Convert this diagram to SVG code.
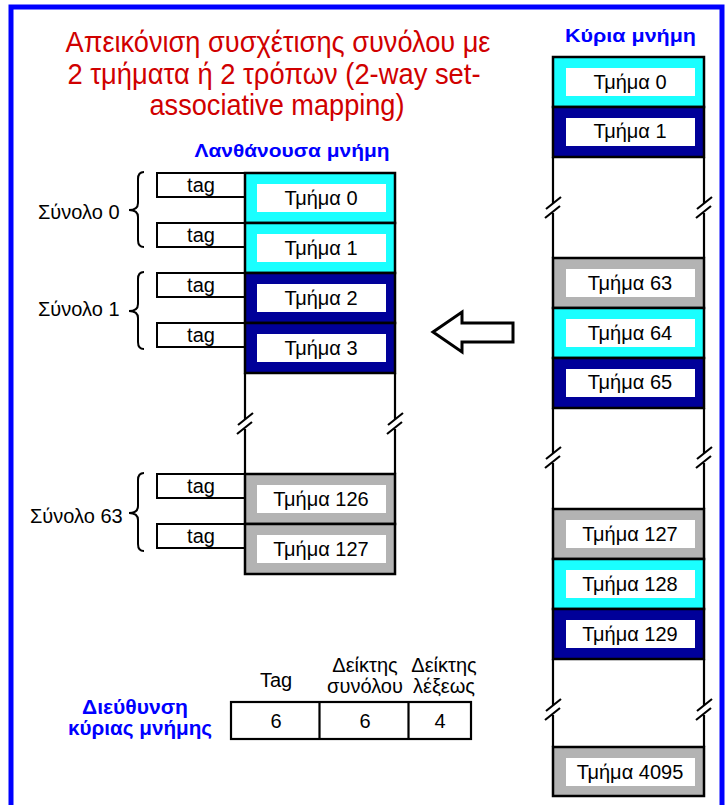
<svg xmlns="http://www.w3.org/2000/svg" width="726" height="805" viewBox="0 0 726 805">
<style>
  text { font-family: "Liberation Sans", Arial, sans-serif; }
  .title { font-size: 29px; fill: #d00000; text-anchor: middle; }
  .head { font-size: 18px; font-weight: bold; fill: #0000ff; text-anchor: middle; }
  .lbl { font-size: 20px; fill: #000; text-anchor: middle; }
  .lblL { font-size: 20px; fill: #000; }
  .row { stroke: #000; stroke-width: 2.5; }
  .cyan { fill: #1affff; }
  .navy { fill: #000099; }
  .gray { fill: #b3b3b3; }
  .inner { fill: #fff; }
  .tagbox { fill: #fff; stroke: #000; stroke-width: 2; }
  .line { fill: none; stroke: #000; stroke-width: 2.2; }
  .brace { fill: none; stroke: #000; stroke-width: 2; }
</style>

<rect id="frame" x="11" y="7" width="711" height="810" fill="none" stroke="#0000ff" stroke-width="5"/>

<g id="title">
  <text class="title" x="278" y="52" textLength="425" lengthAdjust="spacingAndGlyphs">Απεικόνιση συσχέτισης συνόλου με</text>
  <text class="title" x="274" y="84" textLength="413" lengthAdjust="spacingAndGlyphs">2 τμήματα ή 2 τρόπων (2-way set-</text>
  <text class="title" x="277" y="115" textLength="255" lengthAdjust="spacingAndGlyphs">associative mapping)</text>
</g>

<g id="cache-label"><text class="head" x="292" y="157" textLength="195" lengthAdjust="spacingAndGlyphs">Λανθάνουσα μνήμη</text></g>
<g id="main-label"><text class="head" x="630.5" y="42" textLength="131" lengthAdjust="spacingAndGlyphs">Κύρια μνήμη</text></g>

<!-- tag boxes -->
<g id="tag-0"><rect class="tagbox" x="157" y="173" width="88" height="24"/><text class="lbl" x="201" y="192">tag</text></g>
<g id="tag-1"><rect class="tagbox" x="157" y="223" width="88" height="24"/><text class="lbl" x="201" y="242">tag</text></g>
<g id="tag-2"><rect class="tagbox" x="157" y="273" width="88" height="24"/><text class="lbl" x="201" y="292">tag</text></g>
<g id="tag-3"><rect class="tagbox" x="157" y="323" width="88" height="24"/><text class="lbl" x="201" y="342">tag</text></g>
<g id="tag-126"><rect class="tagbox" x="157" y="474" width="88" height="24"/><text class="lbl" x="201" y="493">tag</text></g>
<g id="tag-127"><rect class="tagbox" x="157" y="524" width="88" height="24"/><text class="lbl" x="201" y="543">tag</text></g>

<!-- cache lines -->
<g id="cache-c0"><rect class="row cyan" x="245" y="173" width="150" height="50"/><rect class="inner" x="257" y="184" width="129" height="28"/><text class="lbl" x="321" y="205">Τμήμα 0</text></g>
<g id="cache-c1"><rect class="row cyan" x="245" y="223" width="150" height="50"/><rect class="inner" x="257" y="234" width="129" height="28"/><text class="lbl" x="321" y="255">Τμήμα 1</text></g>
<g id="cache-c2"><rect class="row navy" x="245" y="273" width="150" height="50"/><rect class="inner" x="257" y="284" width="129" height="28"/><text class="lbl" x="321" y="305">Τμήμα 2</text></g>
<g id="cache-c3"><rect class="row navy" x="245" y="323" width="150" height="50"/><rect class="inner" x="257" y="334" width="129" height="28"/><text class="lbl" x="321" y="355">Τμήμα 3</text></g>
<g id="cache-gap">
  <path class="line" d="M245,373 V419 M245,429 V474 M238,425 L253,413 M237,434 L252,422"/>
  <path class="line" d="M395,373 V419 M395,429 V474 M388,425 L403,413 M387,434 L402,422"/>
</g>
<g id="cache-c126"><rect class="row gray" x="245" y="474" width="150" height="50"/><rect class="inner" x="257" y="485" width="129" height="28"/><text class="lbl" x="321" y="506">Τμήμα 126</text></g>
<g id="cache-c127"><rect class="row gray" x="245" y="524" width="150" height="50"/><rect class="inner" x="257" y="535" width="129" height="28"/><text class="lbl" x="321" y="556">Τμήμα 127</text></g>

<!-- sets -->
<g id="set-0">
  <path class="brace" d="M144,172 Q138,172 138,179 L138,203 Q138,210 129,210 Q138,210 138,217 L138,240 Q138,247 144,247"/>
  <text class="lblL" x="38" y="219">Σύνολο 0</text>
</g>
<g id="set-1">
  <path class="brace" d="M144,272 Q138,272 138,279 L138,304 Q138,311 129,311 Q138,311 138,318 L138,342 Q138,349 144,349"/>
  <text class="lblL" x="38" y="316">Σύνολο 1</text>
</g>
<g id="set-63">
  <path class="brace" d="M144,473 Q138,473 138,480 L138,506 Q138,513 129,513 Q138,513 138,520 L138,544 Q138,551 144,551"/>
  <text class="lblL" x="30" y="523">Σύνολο 63</text>
</g>

<!-- main memory -->
<g id="mm-b0"><rect class="row cyan" x="553" y="57" width="151" height="50"/><rect class="inner" x="566" y="68" width="129" height="28"/><text class="lbl" x="630" y="89">Τμήμα 0</text></g>
<g id="mm-b1"><rect class="row navy" x="553" y="107" width="151" height="50"/><rect class="inner" x="566" y="118" width="129" height="28"/><text class="lbl" x="630" y="138">Τμήμα 1</text></g>
<g id="mm-gap1">
  <path class="line" d="M553,157 V203 M553,213 V258 M546,209 L561,197 M545,218 L560,206"/>
  <path class="line" d="M704,157 V203 M704,213 V258 M697,209 L712,197 M696,218 L711,206"/>
</g>
<g id="mm-b63"><rect class="row gray" x="553" y="258" width="151" height="50"/><rect class="inner" x="566" y="269" width="129" height="28"/><text class="lbl" x="630" y="290">Τμήμα 63</text></g>
<g id="mm-b64"><rect class="row cyan" x="553" y="308" width="151" height="50"/><rect class="inner" x="566" y="319" width="129" height="28"/><text class="lbl" x="630" y="340">Τμήμα 64</text></g>
<g id="mm-b65"><rect class="row navy" x="553" y="358" width="151" height="50"/><rect class="inner" x="566" y="369" width="129" height="28"/><text class="lbl" x="630" y="389">Τμήμα 65</text></g>
<g id="mm-gap2">
  <path class="line" d="M553,408 V453 M553,463 V509 M546,459 L561,447 M545,468 L560,456"/>
  <path class="line" d="M704,408 V453 M704,463 V509 M697,459 L712,447 M696,468 L711,456"/>
</g>
<g id="mm-b127"><rect class="row gray" x="553" y="509" width="151" height="50"/><rect class="inner" x="566" y="520" width="129" height="28"/><text class="lbl" x="630" y="541">Τμήμα 127</text></g>
<g id="mm-b128"><rect class="row cyan" x="553" y="559" width="151" height="50"/><rect class="inner" x="566" y="570" width="129" height="28"/><text class="lbl" x="630" y="591">Τμήμα 128</text></g>
<g id="mm-b129"><rect class="row navy" x="553" y="609" width="151" height="50"/><rect class="inner" x="566" y="620" width="129" height="28"/><text class="lbl" x="630" y="641">Τμήμα 129</text></g>
<g id="mm-gap3">
  <path class="line" d="M553,659 V705 M553,715 V747 M546,711 L561,699 M545,720 L560,708"/>
  <path class="line" d="M704,659 V705 M704,715 V747 M697,711 L712,699 M696,720 L711,708"/>
</g>
<g id="mm-b4095"><rect class="row gray" x="553" y="747" width="151" height="49"/><rect class="inner" x="566" y="758" width="129" height="28"/><text class="lbl" x="630" y="779">Τμήμα 4095</text></g>

<g id="connectors">
  <polygon points="433,332 462,312 462,323 513,323 513,342 462,342 462,352" fill="#fff" stroke="#000" stroke-width="3" stroke-linejoin="miter"/>
</g>

<!-- address -->
<g id="address-label">
  <text class="head" x="135" y="714" style="font-size:20px" textLength="106" lengthAdjust="spacingAndGlyphs">Διεύθυνση</text>
  <text class="head" x="140" y="735" style="font-size:20px" textLength="144" lengthAdjust="spacingAndGlyphs">κύριας μνήμης</text>
</g>
<g id="address-fields">
  <text class="lbl" x="276" y="687">Tag</text>
  <text class="lbl" x="365" y="672">Δείκτης</text>
  <text class="lbl" x="365" y="693">συνόλου</text>
  <text class="lbl" x="444" y="672">Δείκτης</text>
  <text class="lbl" x="444" y="693">λέξεως</text>
</g>
<g id="address-box">
  <rect x="231" y="702" width="240" height="37" fill="#fff" stroke="#000" stroke-width="2.2"/>
  <path class="line" d="M319.5,702 V739 M408.5,702 V739"/>
  <text class="lbl" x="276" y="728">6</text>
  <text class="lbl" x="365" y="728">6</text>
  <text class="lbl" x="440" y="728">4</text>
</g>
</svg>
